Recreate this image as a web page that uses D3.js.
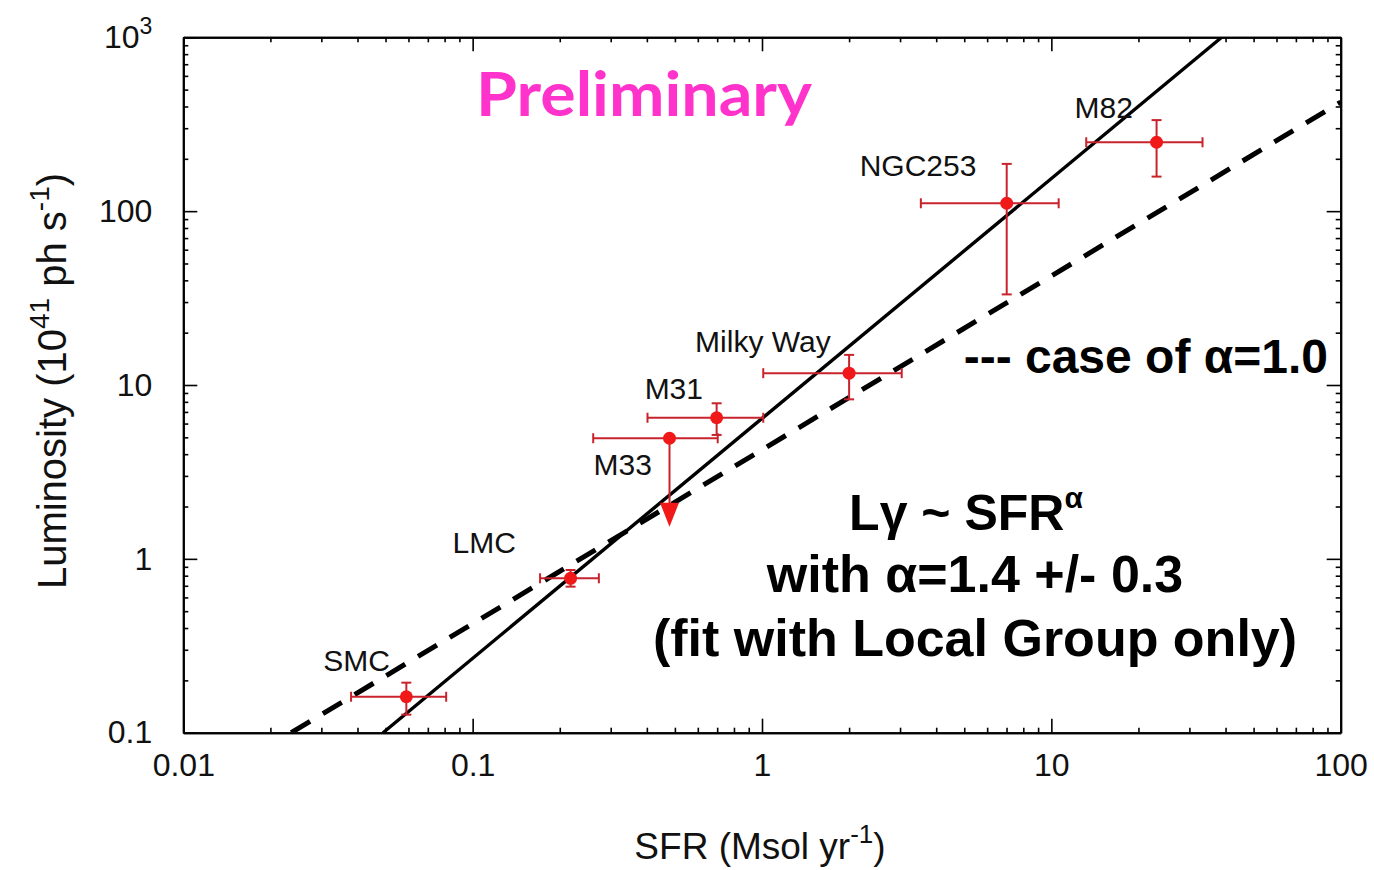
<!DOCTYPE html>
<html>
<head>
<meta charset="utf-8">
<script src="https://cdn.jsdelivr.net/npm/d3@7"></script>
<style>
  html, body { margin: 0; padding: 0; background: #fff; }
  svg { display: block; }
</style>
</head>
<body>
<svg id="chart" width="1374" height="870"></svg>
<script>
// ---------------- DATA ----------------
const galaxies   = ["SMC", "LMC", "M33", "M31", "Milky Way", "NGC253", "M82"];
const sfr        = [0.059, 0.218, 0.479, 0.697, 2.00, 7.01, 23.1];
const sfrLo      = [0.038, 0.171, 0.261, 0.402, 1.01, 3.54, 13.2];
const sfrHi      = [0.081, 0.273, 0.703, 1.01, 3.04, 10.6, 33.3];
const lum        = [0.161, 0.773, 4.94, 6.48, 11.7, 111, 249];
const lumLo      = [0.127, 0.692, 1.53, 5.16, 8.27, 33.2, 158];
const lumHi      = [0.194, 0.863, 4.94, 7.85, 14.9, 187, 334];
const upperLimit = [false, false, true, false, false, false, false];

// fit lines (endpoints, in data units)
const fitSolidSFR = [0.049, 38.8];
const fitSolidLum = [0.1, 1000];
const fitDashSFR  = [0.0236, 100];
const fitDashLum  = [0.1, 424];

// ticks
const xTickValues = [0.01, 0.1, 1, 10, 100];
const xTickLabels = ["0.01", "0.1", "1", "10", "100"];
const yTickValues = [0.1, 1, 10, 100, 1000];
const yTickLabels = ["0.1", "1", "10", "100", "10^3"];

// label offsets (px) relative to each point
const labelDx = [-83, -118, -76, -72, -154, -147, -82];
const labelDy = [-26, -25, 37, -19, -21, -27, -24];

// ---------------- LAYOUT ----------------
const L = 183.3, R = 1340.7, T = 37.3, B = 732.7;
const FONT = "'Liberation Sans', Arial, Helvetica, sans-serif";

const svg = d3.select("#chart");
const x = d3.scaleLog().domain([0.01, 100]).range([L, R]);
const y = d3.scaleLog().domain([0.1, 1000]).range([B, T]);

function minors(domain) {
  const out = [];
  for (let d = domain[0]; d < domain[1] * 0.999; d *= 10)
    for (let k = 2; k <= 9; k++) out.push(d * k);
  return out;
}
const xMinor = minors(x.domain());
const yMinor = minors(y.domain());

svg.append("defs").append("clipPath").attr("id", "clip")
  .append("rect").attr("x", L).attr("y", T).attr("width", R - L).attr("height", B - T);

function styleAxis(g) {
  g.select(".domain").attr("stroke", "#000").attr("stroke-width", 2);
  g.selectAll(".tick line").attr("stroke", "#000").attr("stroke-width", 1.6);
  g.selectAll("text").attr("font-family", FONT).attr("font-size", 32).attr("fill", "#111");
}

// bottom
svg.append("g").attr("transform", `translate(0,${B})`)
  .call(d3.axisBottom(x).tickValues(xMinor).tickSize(-5).tickSizeOuter(0).tickFormat(""))
  .call(styleAxis);
svg.append("g").attr("transform", `translate(0,${B})`)
  .call(d3.axisBottom(x).tickValues(xTickValues).tickSize(-14).tickSizeOuter(0).tickPadding(21)
    .tickFormat((d, i) => xTickLabels[i]))
  .call(styleAxis);
// top
svg.append("g").attr("transform", `translate(0,${T})`)
  .call(d3.axisTop(x).tickValues(xMinor).tickSize(-5).tickSizeOuter(0).tickFormat(""))
  .call(styleAxis);
svg.append("g").attr("transform", `translate(0,${T})`)
  .call(d3.axisTop(x).tickValues(xTickValues).tickSize(-14).tickSizeOuter(0).tickFormat(""))
  .call(styleAxis);
// left
svg.append("g").attr("transform", `translate(${L},0)`)
  .call(d3.axisLeft(y).tickValues(yMinor).tickSize(-5).tickSizeOuter(0).tickFormat(""))
  .call(styleAxis);
const yAx = svg.append("g").attr("transform", `translate(${L},0)`)
  .call(d3.axisLeft(y).tickValues(yTickValues).tickSize(-14).tickSizeOuter(0).tickPadding(31)
    .tickFormat((d, i) => yTickLabels[i]))
  .call(styleAxis);
// right
svg.append("g").attr("transform", `translate(${R},0)`)
  .call(d3.axisRight(y).tickValues(yMinor).tickSize(-5).tickSizeOuter(0).tickFormat(""))
  .call(styleAxis);
svg.append("g").attr("transform", `translate(${R},0)`)
  .call(d3.axisRight(y).tickValues(yTickValues).tickSize(-14).tickSizeOuter(0).tickFormat(""))
  .call(styleAxis);

// superscript in tick labels like "10^3"
yAx.selectAll(".tick text").each(function () {
  const t = d3.select(this);
  const s = t.text();
  if (s.includes("^")) {
    const [base, sup] = s.split("^");
    t.text(null);
    t.append("tspan").text(base);
    t.append("tspan").attr("font-size", 23).attr("dy", "-0.6em").text(sup);
  }
});

// ---------------- FIT LINES ----------------
const plot = svg.append("g").attr("clip-path", "url(#clip)");
const line = d3.line().x(d => x(d[0])).y(d => y(d[1]));

plot.append("path")
  .datum(fitDashSFR.map((s, i) => [s, fitDashLum[i]]))
  .attr("d", line).attr("fill", "none").attr("stroke", "#000")
  .attr("stroke-width", 5).attr("stroke-dasharray", "22,15");

plot.append("path")
  .datum(fitSolidSFR.map((s, i) => [s, fitSolidLum[i]]))
  .attr("d", line).attr("fill", "none").attr("stroke", "#000")
  .attr("stroke-width", 3.4);

// ---------------- DATA POINTS ----------------
const ERR = "#c8232c", DOT = "#f01818", CAP = 5;
const pts = galaxies.map((n, i) => ({
  name: n, x: sfr[i], xl: sfrLo[i], xh: sfrHi[i],
  y: lum[i], yl: lumLo[i], yh: lumHi[i], ul: upperLimit[i], dx: labelDx[i], dy: labelDy[i]
}));

const pg = svg.append("g");
pts.forEach(p => {
  const g = pg.append("g");
  const cx = x(p.x), cy = y(p.y);
  // horizontal error
  g.append("line").attr("x1", x(p.xl)).attr("x2", x(p.xh)).attr("y1", cy).attr("y2", cy)
    .attr("stroke", ERR).attr("stroke-width", 2);
  [p.xl, p.xh].forEach(v => g.append("line").attr("x1", x(v)).attr("x2", x(v))
    .attr("y1", cy - CAP).attr("y2", cy + CAP).attr("stroke", ERR).attr("stroke-width", 2));
  if (p.ul) {
    const tip = y(p.yl);
    g.append("line").attr("x1", cx).attr("x2", cx).attr("y1", cy).attr("y2", tip - 20)
      .attr("stroke", ERR).attr("stroke-width", 2);
    g.append("path")
      .attr("d", `M${cx - 9.5},${tip - 24}L${cx + 9.5},${tip - 24}L${cx},${tip}Z`)
      .attr("fill", "#f01818");
  } else {
    g.append("line").attr("x1", cx).attr("x2", cx).attr("y1", y(p.yh)).attr("y2", y(p.yl))
      .attr("stroke", ERR).attr("stroke-width", 2);
    [p.yl, p.yh].forEach(v => g.append("line").attr("x1", cx - CAP).attr("x2", cx + CAP)
      .attr("y1", y(v)).attr("y2", y(v)).attr("stroke", ERR).attr("stroke-width", 2));
  }
  g.append("circle").attr("cx", cx).attr("cy", cy).attr("r", 6.5).attr("fill", DOT);
  svg.append("text").attr("x", cx + p.dx).attr("y", cy + p.dy)
    .attr("font-family", FONT).attr("font-size", 30).attr("fill", "#111").text(p.name);
});

// ---------------- TITLES ----------------
const xt = svg.append("text").attr("x", 760).attr("y", 859).attr("text-anchor", "middle")
  .attr("font-family", FONT).attr("font-size", 37).attr("fill", "#111");
xt.append("tspan").text("SFR (Msol yr");
xt.append("tspan").attr("font-size", 26).attr("dy", "-0.6em").text("-1");
xt.append("tspan").attr("dy", "0.42em").text(")");

const yt = svg.append("text").attr("transform", "translate(66,381) rotate(-90)")
  .attr("text-anchor", "middle").attr("font-family", FONT).attr("font-size", 40).attr("fill", "#111");
yt.append("tspan").text("Luminosity (10");
yt.append("tspan").attr("font-size", 28).attr("dy", "-0.6em").text("41");
yt.append("tspan").attr("dy", "0.42em").text(" ph s");
yt.append("tspan").attr("font-size", 28).attr("dy", "-0.6em").text("-1");
yt.append("tspan").attr("dy", "0.42em").text(")");

// ---------------- ANNOTATIONS ----------------
svg.append("text").attr("x", 476).attr("y", 116)
  .attr("font-family", "Lato, 'Noto Sans', sans-serif").attr("font-weight", "bold")
  .attr("font-size", 62).attr("fill", "#ff33cc")
  .attr("textLength", 336).attr("lengthAdjust", "spacingAndGlyphs").text("Preliminary");

const bold = (xx, yy, anchor, size) => svg.append("text").attr("x", xx).attr("y", yy)
  .attr("text-anchor", anchor).attr("font-family", FONT).attr("font-weight", "bold")
  .attr("font-size", size).attr("fill", "#000");

bold(1328, 373, "end", 48).text("--- case of α=1.0");
const l1 = bold(966, 530, "middle", 50);
l1.append("tspan").text("Lγ ~ SFR");
l1.append("tspan").attr("font-size", 30).attr("dy", "-0.75em").text("α");
bold(975, 592, "middle", 52).text("with α=1.4 +/- 0.3");
bold(975, 656, "middle", 52).text("(fit with Local Group only)");
</script>
</body>
</html>
